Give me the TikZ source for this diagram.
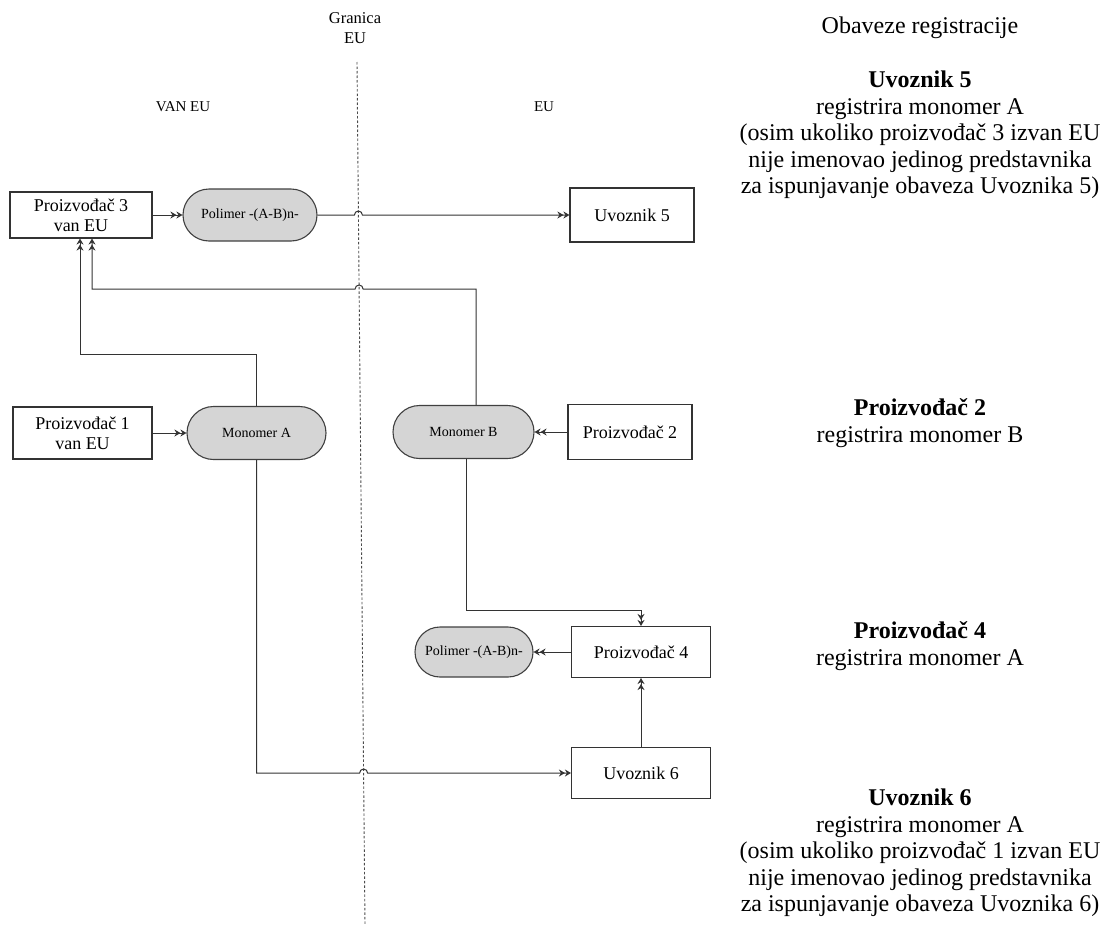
\documentclass[tikz,border=0pt]{standalone}
\usepackage{fontspec}
\setmainfont{Liberation Serif}
\usetikzlibrary{arrows.meta,shapes.misc}
\begin{document}
\begin{tikzpicture}[x=1pt,y=1pt,
  conn/.style={draw=black!80,line width=1pt},
  arr/.style={-{Stealth[length=6pt,width=7pt]Stealth[length=6pt,width=7pt]}},
  box/.style={draw=black!80,line width=1.1pt,fill=white,inner sep=0pt,align=center,
    font=\fontsize{18}{20}\selectfont},
  pill/.style={rounded rectangle,draw=black!75,line width=1.1pt,fill=gray!33,inner sep=0pt,
    font=\fontsize{14}{16}\selectfont},
  side/.style={align=center,inner sep=0pt,font=\fontsize{24}{26.5}\selectfont},
  region/.style={inner sep=0pt,font=\fontsize{15}{17}\selectfont}
]
\useasboundingbox (0,0) rectangle (1104,-929);

% EU border
\node[inner sep=0pt,align=center,font=\fontsize{16.5}{20}\selectfont] (gr) at (355,-28) {Granica\\EU};
\coordinate (bt) at (357,-62);
\coordinate (bb) at (365,-925);
\draw[black!70,line width=0.9pt,dash pattern=on 2.5pt off 2pt] (bt) -- (bb);
\coordinate (h1) at (358.4,-215);
\coordinate (h2) at (359.1,-289);
\coordinate (h3) at (363.6,-773);

\node[region] (van) at (183,-107) {VAN EU};
\node[region] (eu) at (544,-107) {EU};

% nodes
\node[box,minimum width=142pt,minimum height=46pt] (p3) at (81,-215) {Proizvođač 3\\van EU};
\node[pill,minimum width=134pt,minimum height=52pt] (pl1) at (250,-215) {Polimer -(A-B)n-};
\node[box,minimum width=124pt,minimum height=54pt] (u5) at (632,-215) {Uvoznik 5};

\node[box,minimum width=139pt,minimum height=52pt] (p1) at (82.5,-433) {Proizvođač 1\\van EU};
\node[pill,minimum width=139pt,minimum height=53pt] (mA) at (256.5,-433) {Monomer A};
\node[pill,minimum width=141pt,minimum height=53pt] (mB) at (463.5,-432) {Monomer B};
\node[box,minimum width=124pt,minimum height=55pt] (p2) at (630,-432) {Proizvođač 2};

\node[pill,minimum width=118pt,minimum height=50pt] (pl2) at (474,-652) {Polimer -(A-B)n-};
\node[box,minimum width=139pt,minimum height=51pt] (p4) at (641,-652) {Proizvođač 4};
\node[box,minimum width=139pt,minimum height=51pt] (u6) at (641,-773) {Uvoznik 6};

% connectors
\draw[conn,arr] (p3.east) -- (pl1.west);
\draw[conn,arr] (pl1.east) -- ([xshift=-4pt]h1) arc[start angle=180,end angle=0,radius=4pt] -- (u5.west);
\draw[conn,arr] (p1.east) -- (mA.west);
\draw[conn,arr] (p2.west) -- (mB.east);
\draw[conn,arr] (mA.north) -- ++(0,51) -| ([xshift=-1pt]p3.south);
\draw[conn,arr] ([xshift=12.5pt]mB.north) |- ([xshift=4pt]h2) arc[start angle=0,end angle=180,radius=4pt] -| ([xshift=11pt]p3.south);
\draw[conn,arr] (mA.south) |- ([xshift=-4pt]h3) arc[start angle=180,end angle=0,radius=4pt] -- (u6.west);
\draw[conn,arr] ([xshift=2.5pt]mB.south) -- ++(0,-151) -| (p4.north);
\draw[conn,arr] (u6.north) -- (p4.south);
\draw[conn,arr] (p4.west) -- (pl2.east);

% side texts
\node[side] (t0) at (920,-28) {Obaveze registracije};
\node[side] (t1) at (920,-135) {\textbf{Uvoznik 5}\\registrira monomer A\\(osim ukoliko proizvođač 3 izvan EU\\nije imenovao jedinog predstavnika\\za ispunjavanje obaveza Uvoznika 5)};
\node[side] (t2) at (920,-423) {\textbf{Proizvođač 2}\\registrira monomer B};
\node[side] (t3) at (920,-646) {\textbf{Proizvođač 4}\\registrira monomer A};
\node[side] (t4) at (920,-853) {\textbf{Uvoznik 6}\\registrira monomer A\\(osim ukoliko proizvođač 1 izvan EU\\nije imenovao jedinog predstavnika\\za ispunjavanje obaveza Uvoznika 6)};
\end{tikzpicture}
\end{document}
